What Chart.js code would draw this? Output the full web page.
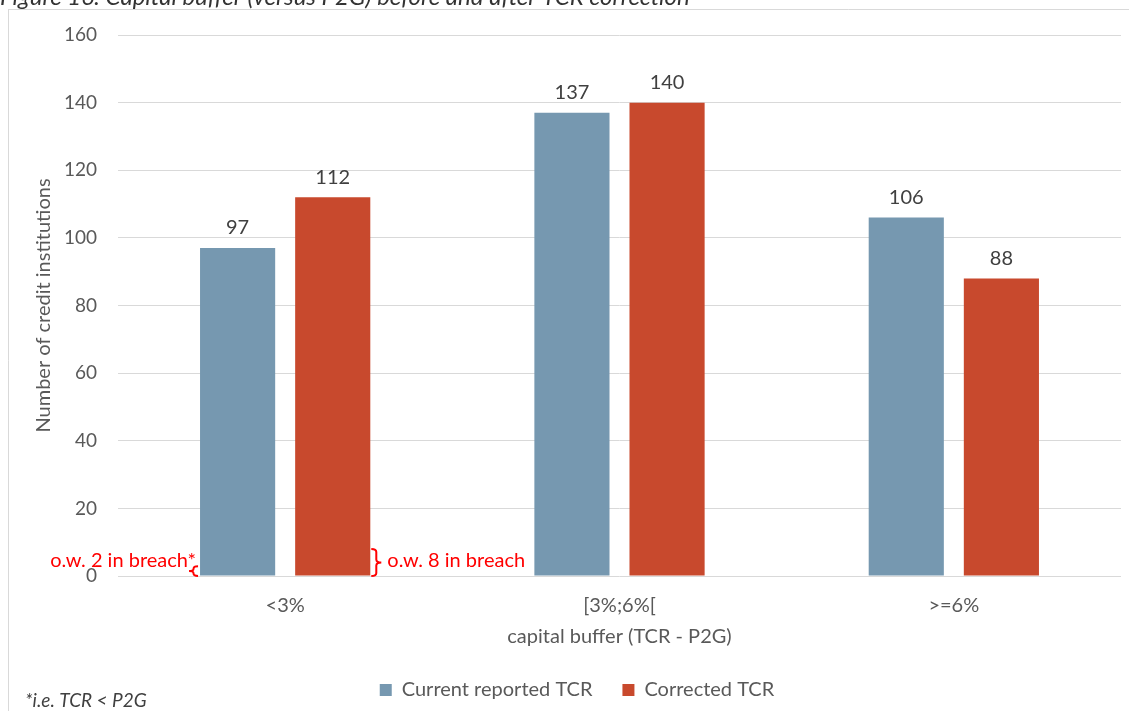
<!DOCTYPE html>
<html>
<head>
<meta charset="utf-8">
<script src="https://cdn.jsdelivr.net/npm/chart.js@4.4.0/dist/chart.umd.min.js"></script>
<style>
  html, body { margin: 0; padding: 0; background: #ffffff; }
  #wrap { width: 1129px; height: 711px; position: relative; }
</style>
</head>
<body>
<div id="wrap"><canvas id="c" width="1129" height="711"></canvas></div>
<script>
// Capital buffer buckets and institution counts
const categories = ['<3%', '[3%;6%[', '>=6%'];
const currentReported = [97, 137, 106];
const correctedTCR = [112, 140, 88];
const yTickValues = [0, 20, 40, 60, 80, 100, 120, 140, 160];
// Institutions in breach within the lowest bucket
const breachCurrent = 2;
const breachCorrected = 8;

const FONT = 'Lato, "Open Sans", sans-serif';
const GREY = '#595959';
const DARK = '#404040';

// Frame, figure caption and footnote
const framePlugin = {
  id: 'frame',
  beforeDraw(chart) {
    const ctx = chart.ctx;
    ctx.save();
    ctx.fillStyle = '#ffffff';
    ctx.fillRect(0, 0, chart.width, chart.height);
    ctx.strokeStyle = '#d9d9d9';
    ctx.lineWidth = 1;
    ctx.beginPath();
    ctx.moveTo(8, 9.5);
    ctx.lineTo(chart.width, 9.5);
    ctx.moveTo(8.5, 9.5);
    ctx.lineTo(8.5, chart.height);
    ctx.stroke();

    ctx.fillStyle = '#333333';
    ctx.font = 'italic 24px ' + FONT;
    ctx.textAlign = 'left';
    ctx.textBaseline = 'alphabetic';
    ctx.fillText('Figure 16: Capital buffer (versus P2G) before and after TCR correction', 0, 5);

    ctx.fillStyle = DARK;
    ctx.font = 'italic 19px ' + FONT;
    ctx.fillText('*i.e. TCR < P2G', 25, 707);
    ctx.restore();
  }
};

// Value labels above each bar
const valueLabels = {
  id: 'valueLabels',
  afterDatasetsDraw(chart) {
    const ctx = chart.ctx;
    ctx.save();
    ctx.fillStyle = DARK;
    ctx.font = '20px ' + FONT;
    ctx.textAlign = 'center';
    ctx.textBaseline = 'middle';
    chart.data.datasets.forEach((ds, i) => {
      chart.getDatasetMeta(i).data.forEach((bar, j) => {
        ctx.fillText(String(ds.data[j]), bar.x, bar.y - 20);
      });
    });
    ctx.restore();
  }
};

function brace(ctx, xBase, top, bot, dir, w) {
  // dir = -1 -> "{" tip to the left, dir = +1 -> "}" tip to the right
  const mid = (top + bot) / 2;
  const r = Math.min(3, (bot - top) / 4);
  const xs = xBase + dir * w / 2;
  const xt = xBase + dir * w;
  ctx.beginPath();
  ctx.moveTo(xBase, top);
  ctx.quadraticCurveTo(xs, top, xs, top + r);
  ctx.lineTo(xs, mid - r);
  ctx.quadraticCurveTo(xs, mid, xt, mid);
  ctx.quadraticCurveTo(xs, mid, xs, mid + r);
  ctx.lineTo(xs, bot - r);
  ctx.quadraticCurveTo(xs, bot, xBase, bot);
  ctx.stroke();
}

// "of which in breach" call-outs on the first bucket
const breachNotes = {
  id: 'breachNotes',
  afterDatasetsDraw(chart) {
    const ctx = chart.ctx;
    const y = chart.scales.y;
    const blue = chart.getDatasetMeta(0).data[0];
    const red = chart.getDatasetMeta(1).data[0];
    const y0 = y.getPixelForValue(0);
    ctx.save();
    ctx.strokeStyle = '#ff0000';
    ctx.fillStyle = '#ff0000';
    ctx.lineWidth = 2;
    ctx.font = '20px ' + FONT;
    ctx.textBaseline = 'middle';

    const bLeft = blue.x - blue.width / 2 - 2;
    const bTop = y.getPixelForValue(breachCurrent) - 3;
    brace(ctx, bLeft, bTop, y0, -1, 9);
    ctx.textAlign = 'right';
    ctx.fillText('o.w. ' + breachCurrent + ' in breach*', bLeft - 2, bTop - 6);

    const rRight = red.x + red.width / 2 + 1;
    const rTop = y.getPixelForValue(breachCorrected);
    brace(ctx, rRight, rTop, y0, 1, 10);
    ctx.textAlign = 'left';
    ctx.fillText('o.w. ' + breachCorrected + ' in breach', rRight + 16, (rTop + y0) / 2 - 2);
    ctx.restore();
  }
};

const LEGEND_PAD = 30;
const LAYOUT_LEFT = 33;
const LAYOUT_BOTTOM = 1;
const PLOT_LEFT = 118;
const PLOT_BOTTOM = 576;

new Chart(document.getElementById('c'), {
  type: 'bar',
  data: {
    labels: categories,
    datasets: [
      { label: 'Current reported TCR', data: currentReported, backgroundColor: '#7698b0', borderWidth: 0 },
      { label: 'Corrected TCR', data: correctedTCR, backgroundColor: '#c8492d', borderWidth: 0 }
    ]
  },
  options: {
    responsive: false,
    devicePixelRatio: 1,
    animation: false,
    categoryPercentage: 0.569,
    barPercentage: 0.79,
    layout: { padding: { left: LAYOUT_LEFT, right: 8, top: 35, bottom: LAYOUT_BOTTOM } },
    plugins: {
      legend: {
        position: 'bottom',
        labels: {
          font: { family: FONT, size: 20 },
          color: GREY,
          boxWidth: 12,
          boxHeight: 12,
          padding: LEGEND_PAD
        }
      },
      tooltip: { enabled: false }
    },
    scales: {
      x: {
        grid: { display: false, drawTicks: false },
        border: { display: false },
        ticks: { color: GREY, font: { family: FONT, size: 20 }, padding: 18 },
        title: {
          display: true,
          text: 'capital buffer (TCR - P2G)',
          color: GREY,
          font: { family: FONT, size: 20 },
          padding: { top: 0, bottom: 1 }
        },
        afterFit(s) {
          s.height = s.chart.height - LAYOUT_BOTTOM - s.chart.legend.height - PLOT_BOTTOM;
        }
      },
      y: {
        min: 0,
        max: 160,
        grid: { color: '#d9d9d9', lineWidth: 1, drawTicks: false },
        border: { display: false },
        ticks: { color: GREY, font: { family: FONT, size: 19 }, padding: 21 },
        afterBuildTicks(s) {
          s.ticks = yTickValues.map(v => ({ value: v }));
        },
        title: {
          display: true,
          text: 'Number of credit institutions',
          color: GREY,
          font: { family: FONT, size: 20 },
          padding: { top: 32 - LAYOUT_LEFT, bottom: 0 }
        },
        afterFit(s) { s.width = PLOT_LEFT - LAYOUT_LEFT; }
      }
    }
  },
  plugins: [framePlugin, valueLabels, breachNotes]
});
</script>
</body>
</html>
